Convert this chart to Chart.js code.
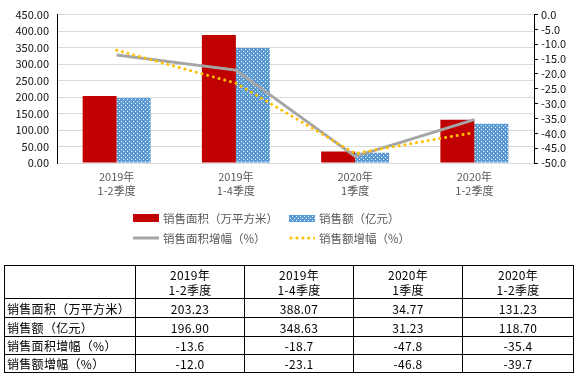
<!DOCTYPE html>
<html>
<head>
<meta charset="utf-8">
<script src="https://cdn.jsdelivr.net/npm/chart.js@4"></script>
<style>
  body { margin: 0; width: 580px; height: 377px; background: #fff; position: relative; overflow: hidden; font-family: "Noto Sans CJK SC", sans-serif; }
  #wrap { position: absolute; left: 0; top: 0; width: 580px; height: 206px; }
  #legend { position: absolute; left: 0; top: 0; width: 580px; height: 260px; pointer-events: none; }
  .item { position: absolute; display: flex; align-items: center; height: 18px; font-size: 11.5px; color: #595959; white-space: nowrap; }
  .item canvas { margin-right: 4px; }
  table { position: absolute; left: 4px; top: 265px; width: 569px; border-collapse: collapse; table-layout: fixed; font-size: 12px; color: #000; letter-spacing: 0.3px; }
  td { border: 1px solid #000; padding: 0; text-align: center; line-height: 15px; overflow: hidden; white-space: nowrap; }
  td.name { text-align: left; padding-left: 2px; }
</style>
</head>
<body>
<div id="wrap"><canvas id="c" width="580" height="206"></canvas></div>
<div id="legend"></div>
<table id="tbl"></table>
<script>
const categories = [["2019年", "1-2季度"], ["2019年", "1-4季度"], ["2020年", "1季度"], ["2020年", "1-2季度"]];
const seriesNames = ["销售面积（万平方米）", "销售额（亿元）", "销售面积增幅（%）", "销售额增幅（%）"];
const areaSold = [203.23, 388.07, 34.77, 131.23];
const amountSold = [196.90, 348.63, 31.23, 118.70];
const areaGrowth = [-13.6, -18.7, -47.8, -35.4];
const amountGrowth = [-12.0, -23.1, -46.8, -39.7];
const leftTicks = { min: 0, max: 450, step: 50 };
const rightTicks = { min: -50, max: 0, step: 5 };

const family = '"Noto Sans CJK SC", sans-serif';

function dotPattern(ctx) {
  const c = document.createElement("canvas");
  c.width = 4; c.height = 4;
  const g = c.getContext("2d");
  g.fillStyle = "#5b9bd5";
  g.fillRect(0, 0, 4, 4);
  g.fillStyle = "#ffffff";
  g.fillRect(1, 1, 1, 1);
  g.fillRect(3, 3, 1, 1);
  return ctx.createPattern(c, "repeat");
}

const ctx = document.getElementById("c").getContext("2d");
const blueDots = dotPattern(ctx);

const chart = new Chart(ctx, {
  data: {
    labels: categories,
    datasets: [
      { type: "bar", label: seriesNames[0], data: areaSold, backgroundColor: "#c00000", yAxisID: "y", order: 2,
        categoryPercentage: 0.57, barPercentage: 1 },
      { type: "bar", label: seriesNames[1], data: amountSold, backgroundColor: blueDots, yAxisID: "y", order: 2,
        categoryPercentage: 0.57, barPercentage: 1 },
      { type: "line", label: seriesNames[2], data: areaGrowth, borderColor: "#a5a5a5", borderWidth: 3,
        pointRadius: 0, yAxisID: "y2", order: 1, tension: 0 },
      { type: "line", label: seriesNames[3], data: amountGrowth, borderColor: "#ffc000", borderWidth: 3,
        borderDash: [0.1, 5.8], borderCapStyle: "round", pointRadius: 0, yAxisID: "y2", order: 0, tension: 0 }
    ]
  },
  options: {
    responsive: false,
    animation: false,
    devicePixelRatio: 1,
    layout: { padding: { top: 7, left: 0, right: 0, bottom: 0 } },
    plugins: { legend: { display: false }, tooltip: { enabled: false } },
    scales: {
      x: {
        grid: { display: false, drawTicks: false, tickLength: 0 },
        border: { color: "#d9d9d9" },
        ticks: { color: "#595959", font: { size: 11, family, lineHeight: 1.27 }, padding: 7, maxRotation: 0, autoSkip: false },
        afterFit(s) { s.height = 43; }
      },
      y: {
        position: "left",
        min: leftTicks.min, max: leftTicks.max,
        ticks: { stepSize: leftTicks.step, callback: v => v.toFixed(2), color: "#111", font: { size: 11, family }, padding: 8, autoSkip: false },
        grid: { color: "#d9d9d9", drawTicks: false },
        border: { color: "#000" },
        afterFit(s) { s.width = 57; }
      },
      y2: {
        position: "right",
        min: rightTicks.min, max: rightTicks.max,
        ticks: { stepSize: rightTicks.step, callback: v => v.toFixed(1), color: "#111", font: { size: 11, family }, padding: 3, autoSkip: false },
        grid: { drawOnChartArea: false, drawTicks: true, tickLength: 4, color: "#000" },
        border: { color: "#000" },
        afterFit(s) { s.width = 46; }
      }
    }
  }
});

// legend, two columns like the original
const legend = document.getElementById("legend");
const spots = [[133, 209], [289, 209], [133, 229], [289, 229]];
chart.data.datasets.forEach((ds, i) => {
  const item = document.createElement("div");
  item.className = "item";
  item.style.left = spots[i][0] + "px";
  item.style.top = spots[i][1] + "px";
  const sw = document.createElement("canvas");
  sw.width = 26; sw.height = 18;
  const g = sw.getContext("2d");
  if (ds.type === "bar") {
    g.fillStyle = i === 1 ? dotPattern(g) : ds.backgroundColor;
    if (i === 1) g.fillRect(0, 6, 26, 7); else g.fillRect(0, 5, 26, 8);
  } else {
    g.strokeStyle = ds.borderColor;
    g.lineWidth = ds.borderWidth;
    g.lineCap = ds.borderCapStyle || "butt";
    if (ds.borderDash) g.setLineDash(ds.borderDash);
    g.beginPath();
    g.moveTo(ds.borderDash ? 2 : 0, 9);
    g.lineTo(26, 9);
    g.stroke();
  }
  item.appendChild(sw);
  const t = document.createElement("span");
  t.textContent = ds.label;
  item.appendChild(t);
  legend.appendChild(item);
});

// data table
const tbl = document.getElementById("tbl");
const widths = [131, 109, 109, 109, 111];
let html = "<colgroup>" + widths.map(w => `<col style="width:${w}px">`).join("") + "</colgroup>";
html += `<tr style="height:33px"><td></td>` + categories.map(c => `<td>${c[0]}<br>${c[1]}</td>`).join("") + "</tr>";
const rows = [
  [seriesNames[0], areaSold, 2, 19],
  [seriesNames[1], amountSold, 2, 19],
  [seriesNames[2], areaGrowth, 1, 18],
  [seriesNames[3], amountGrowth, 1, 18]
];
rows.forEach(r => {
  html += `<tr style="height:${r[3]}px"><td class="name">${r[0]}</td>` + r[1].map(v => `<td>${v.toFixed(r[2])}</td>`).join("") + "</tr>";
});
tbl.innerHTML = html;
</script>
</body>
</html>
